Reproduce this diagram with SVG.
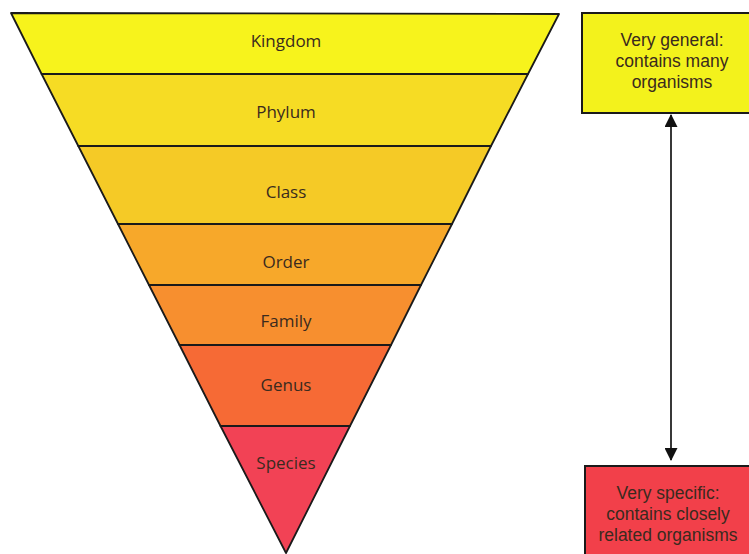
<svg xmlns="http://www.w3.org/2000/svg" width="749" height="554" viewBox="0 0 749 554">
<defs>
<style>
.band{stroke:#1a1a1a;stroke-width:1.8;stroke-linejoin:round}
.lbl{font-family:"Open Sans","Liberation Sans",sans-serif;font-size:17px;fill:#3a2a1e;text-anchor:middle}
.bx{font-family:"Liberation Sans",sans-serif;font-size:17.5px}
.box{stroke:#1a1a1a;stroke-width:2}
.conn{stroke:#222;stroke-width:1.8;fill:none}
</style>
<marker id="ah" markerWidth="13" markerHeight="13" refX="12" refY="6.5" orient="auto-start-reverse" markerUnits="userSpaceOnUse">
<path d="M0,0 L13,6.5 L0,13 Z" fill="#111"/>
</marker>
</defs>
<rect width="749" height="554" fill="#ffffff"/>
<g id="kingdom">
<polygon class="band" points="11,13 559,14 528,74 41.6,74" fill="#f7f31c"/>
<text class="lbl" x="286" y="47">Kingdom</text>
</g>
<g id="phylum">
<polygon class="band" points="41.6,74 528,74 491,146 78.3,146" fill="#f6dc24"/>
<text class="lbl" x="286" y="118">Phylum</text>
</g>
<g id="class">
<polygon class="band" points="78.3,146 491,146 452,224 118,224" fill="#f5ca26"/>
<text class="lbl" x="286" y="198">Class</text>
</g>
<g id="order">
<polygon class="band" points="118,224 452,224 421,285 149,285" fill="#f7a82a"/>
<text class="lbl" x="286" y="268">Order</text>
</g>
<g id="family">
<polygon class="band" points="149,285 421,285 391,345 179.5,345" fill="#f78f2f"/>
<text class="lbl" x="286" y="327">Family</text>
</g>
<g id="genus">
<polygon class="band" points="179.5,345 391,345 350,426 220.5,426" fill="#f66a35"/>
<text class="lbl" x="286" y="391">Genus</text>
</g>
<g id="species">
<polygon class="band" points="220.5,426 350,426 286,553" fill="#f24255"/>
<text class="lbl" x="286" y="469">Species</text>
</g>
<g id="general">
<rect class="box" x="582" y="13" width="180" height="100" fill="#f3f21c"/>
<text class="lbl bx" x="672" y="46">Very general:</text>
<text class="lbl bx" x="672" y="67">contains many</text>
<text class="lbl bx" x="672" y="88">organisms</text>
</g>
<g id="specific">
<rect class="box" x="585" y="466" width="180" height="100" fill="#f2404a"/>
<text class="lbl bx" x="668" y="499">Very specific:</text>
<text class="lbl bx" x="668" y="520">contains closely</text>
<text class="lbl bx" x="668" y="541">related organisms</text>
</g>
<g id="connectors">
<line class="conn" x1="671" y1="115" x2="671" y2="460" marker-start="url(#ah)" marker-end="url(#ah)"/>
</g>
</svg>
